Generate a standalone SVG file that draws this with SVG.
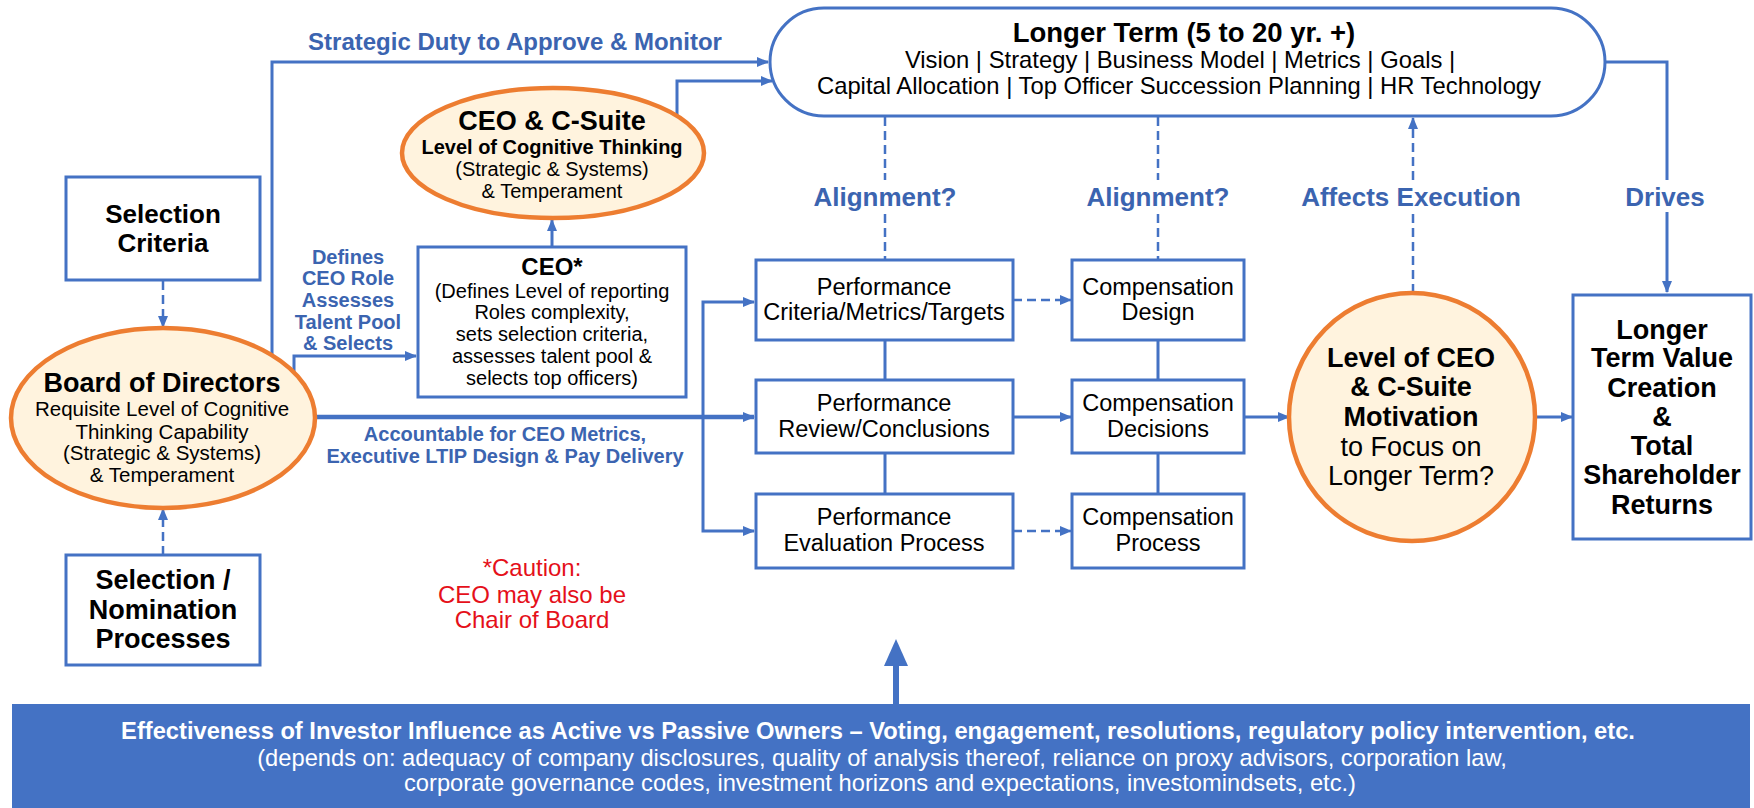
<svg xmlns="http://www.w3.org/2000/svg" width="1754" height="808" viewBox="0 0 1754 808">
<defs>
<marker id="ah" viewBox="0 0 12 10" refX="11" refY="5" markerWidth="12" markerHeight="10" markerUnits="userSpaceOnUse" orient="auto">
<path d="M0,0 L12,5 L0,10 Z" fill="#4472C4"/>
</marker>
<style>
.box{fill:#fff;stroke:#4472C4;stroke-width:3}
.ell{fill:#FFF3DE;stroke:#ED7D31;stroke-width:4.5}
.ln{fill:none;stroke:#4472C4;stroke-width:3}
.dash{fill:none;stroke:#4472C4;stroke-width:2.5;stroke-dasharray:9 5}
.arr{marker-end:url(#ah)}
text{font-family:"Liberation Sans",Arial,sans-serif;text-anchor:middle;fill:#000}
.b{font-weight:bold}
.lbl{font-weight:bold;fill:#3B64B0}
.red{fill:#E5101A}
.w{fill:#fff}
</style>
</defs>
<rect width="1754" height="808" fill="#fff"/>

<g id="connectors">
<path class="ln arr" d="M272,355 V62 H768"/>
<path class="ln arr" d="M677,117 V81 H772"/>
<path class="ln arr" d="M552,247 V220"/>
<path class="ln arr" d="M294,372 V356 H416"/>
<path class="ln arr" d="M315,417 H754" style="stroke-width:4.5"/>
<path class="ln arr" d="M703,419 V302 H754"/>
<path class="ln arr" d="M703,415 V531 H754"/>
<path class="dash arr" d="M163,281 V327"/>
<path class="dash arr" d="M163,555 V509"/>
<path class="dash" d="M885,117 V180 M885,214 V259"/>
<path class="dash" d="M1158,117 V180 M1158,214 V259"/>
<path class="dash" d="M1413,293 V214"/>
<path class="dash arr" d="M1413,180 V118"/>
<path class="ln" d="M1605,62 H1667 V180"/>
<path class="ln arr" d="M1667,212 V292"/>
<path class="dash arr" d="M1013,300 H1071"/>
<path class="ln arr" d="M1013,417 H1071"/>
<path class="dash arr" d="M1013,531 H1071"/>
<path class="ln" d="M885,340 V380 M885,453 V494 M1158,340 V380 M1158,453 V494"/>
<path class="ln arr" d="M1244,417 H1289"/>
<path class="ln arr" d="M1535,417 H1572"/>
<path d="M896,704 V664" stroke="#4472C4" stroke-width="6" fill="none"/>
<polygon points="884,666 908,666 896,639" fill="#4472C4"/>
</g>

<g id="labels">
<text class="lbl" x="515" y="50" font-size="24">Strategic Duty to Approve &amp; Monitor</text>
<text class="lbl" font-size="20"><tspan x="348" y="264">Defines</tspan><tspan x="348" y="285">CEO Role</tspan><tspan x="348" y="307">Assesses</tspan><tspan x="348" y="329">Talent Pool</tspan><tspan x="348" y="350">&amp; Selects</tspan></text>
<text class="lbl" font-size="20"><tspan x="505" y="441">Accountable for CEO Metrics,</tspan><tspan x="505" y="463">Executive LTIP Design &amp; Pay Delivery</tspan></text>
<text class="lbl" x="885" y="206" font-size="26">Alignment?</text>
<text class="lbl" x="1158" y="206" font-size="26">Alignment?</text>
<text class="lbl" x="1411" y="206" font-size="26">Affects Execution</text>
<text class="lbl" x="1665" y="206" font-size="26">Drives</text>
<text class="red" font-size="24"><tspan x="532" y="576">*Caution:</tspan><tspan x="532" y="603">CEO may also be</tspan><tspan x="532" y="628">Chair of Board</tspan></text>
</g>

<g id="longer-term">
<rect class="box" x="770" y="8" width="835" height="108" rx="54"/>
<text class="b" x="1184" y="42" font-size="27.5">Longer Term (5 to 20 yr. +)</text>
<text font-size="23.8"><tspan x="1180" y="68">Vision | Strategy | Business Model | Metrics | Goals |</tspan><tspan x="1179" y="94">Capital Allocation | Top Officer Succession Planning | HR Technology</tspan></text>
</g>

<g id="ceo-csuite">
<ellipse class="ell" cx="553" cy="153" rx="151" ry="65"/>
<text class="b" x="552" y="130" font-size="27">CEO &amp; C-Suite</text>
<text class="b" x="552" y="154" font-size="20">Level of Cognitive Thinking</text>
<text font-size="20"><tspan x="552" y="176">(Strategic &amp; Systems)</tspan><tspan x="552" y="198">&amp; Temperament</tspan></text>
</g>

<g id="ceo">
<rect class="box" x="418" y="247" width="268" height="150"/>
<text class="b" x="552" y="275" font-size="24">CEO*</text>
<text font-size="20"><tspan x="552" y="298">(Defines Level of reporting</tspan><tspan x="552" y="319">Roles complexity,</tspan><tspan x="552" y="341">sets selection criteria,</tspan><tspan x="552" y="363">assesses talent pool &amp;</tspan><tspan x="552" y="385">selects top officers)</tspan></text>
</g>

<g id="selection-criteria">
<rect class="box" x="66" y="177" width="194" height="103"/>
<text class="b" font-size="26"><tspan x="163" y="223">Selection</tspan><tspan x="163" y="252">Criteria</tspan></text>
</g>

<g id="board">
<ellipse class="ell" cx="163" cy="418" rx="152" ry="90"/>
<text class="b" x="162" y="392" font-size="27">Board of Directors</text>
<text font-size="20.5"><tspan x="162" y="416">Requisite Level of Cognitive</tspan><tspan x="162" y="439">Thinking Capability</tspan><tspan x="162" y="460">(Strategic &amp; Systems)</tspan><tspan x="162" y="482">&amp; Temperament</tspan></text>
</g>

<g id="selection-nomination">
<rect class="box" x="66" y="555" width="194" height="110"/>
<text class="b" font-size="27"><tspan x="163" y="589">Selection /</tspan><tspan x="163" y="619">Nomination</tspan><tspan x="163" y="648">Processes</tspan></text>
</g>

<g id="perf-criteria">
<rect class="box" x="756" y="260" width="257" height="80"/>
<text font-size="23.5"><tspan x="884" y="295">Performance</tspan><tspan x="884" y="320">Criteria/Metrics/Targets</tspan></text>
</g>
<g id="perf-review">
<rect class="box" x="756" y="380" width="257" height="73"/>
<text font-size="23.5"><tspan x="884" y="411">Performance</tspan><tspan x="884" y="437">Review/Conclusions</tspan></text>
</g>
<g id="perf-eval">
<rect class="box" x="756" y="494" width="257" height="74"/>
<text font-size="23.5"><tspan x="884" y="525">Performance</tspan><tspan x="884" y="551">Evaluation Process</tspan></text>
</g>

<g id="comp-design">
<rect class="box" x="1072" y="260" width="172" height="80"/>
<text font-size="23.5"><tspan x="1158" y="295">Compensation</tspan><tspan x="1158" y="320">Design</tspan></text>
</g>
<g id="comp-decisions">
<rect class="box" x="1072" y="380" width="172" height="73"/>
<text font-size="23.5"><tspan x="1158" y="411">Compensation</tspan><tspan x="1158" y="437">Decisions</tspan></text>
</g>
<g id="comp-process">
<rect class="box" x="1072" y="494" width="172" height="74"/>
<text font-size="23.5"><tspan x="1158" y="525">Compensation</tspan><tspan x="1158" y="551">Process</tspan></text>
</g>

<g id="motivation">
<ellipse class="ell" cx="1412" cy="417" rx="123" ry="124"/>
<text class="b" font-size="27"><tspan x="1411" y="367">Level of CEO</tspan><tspan x="1411" y="396">&amp; C-Suite</tspan><tspan x="1411" y="426">Motivation</tspan></text>
<text font-size="27"><tspan x="1411" y="456">to Focus on</tspan><tspan x="1411" y="485">Longer Term?</tspan></text>
</g>

<g id="value">
<rect class="box" x="1573" y="295" width="178" height="244"/>
<text class="b" font-size="27"><tspan x="1662" y="339">Longer</tspan><tspan x="1662" y="367">Term Value</tspan><tspan x="1662" y="397">Creation</tspan><tspan x="1662" y="426">&amp;</tspan><tspan x="1662" y="455">Total</tspan><tspan x="1662" y="484">Shareholder</tspan><tspan x="1662" y="514">Returns</tspan></text>
</g>

<g id="investor-banner">
<rect x="12" y="704" width="1738" height="104" fill="#4472C4"/>
<text class="b w" x="878" y="739" font-size="23.7">Effectiveness of Investor Influence as Active vs Passive Owners – Voting, engagement, resolutions, regulatory policy intervention, etc.</text>
<text class="w" font-size="23.7"><tspan x="882" y="766">(depends on: adequacy of company disclosures, quality of analysis thereof, reliance on proxy advisors, corporation law,</tspan><tspan x="880" y="791">corporate governance codes, investment horizons and expectations, investomindsets, etc.)</tspan></text>
</g>
</svg>
